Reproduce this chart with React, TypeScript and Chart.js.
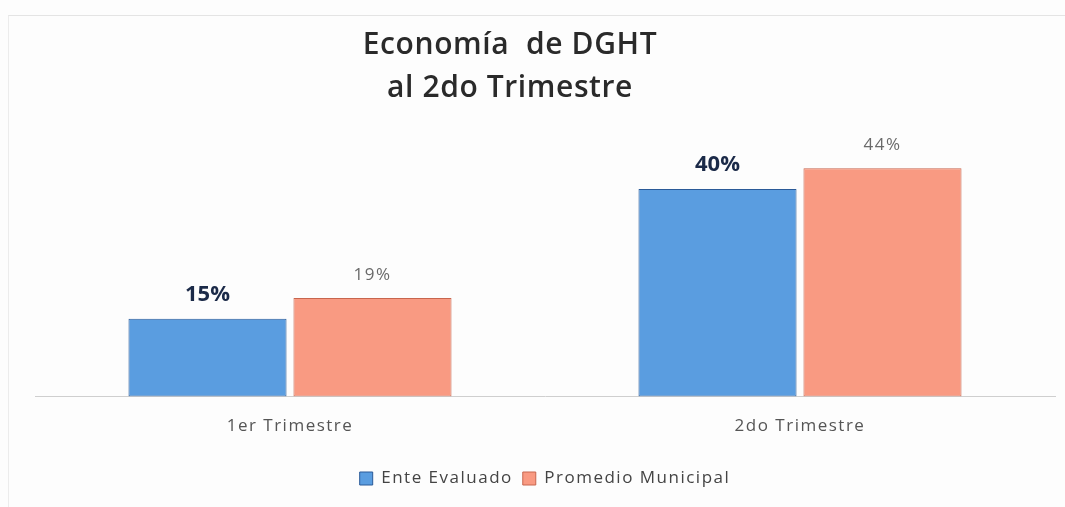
import React, { useEffect, useRef } from "react";
import { Chart, registerables } from "chart.js";

Chart.register(...registerables);

const titleLines = ["Economía  de DGHT", "al 2do Trimestre"];
const categories = ["1er Trimestre", "2do Trimestre"];
const seriesNames = ["Ente Evaluado", "Promedio Municipal"];
const enteEvaluado = [15, 40];
const promedioMunicipal = [19, 44];

const FONT = "'Open Sans', 'DejaVu Sans', sans-serif";
const TITLE_SIZE = 30;
const TITLE_LH = 43;

const spacing = {
  id: "spacing",
  beforeUpdate(chart: any) {
    (chart.ctx as any).letterSpacing = "1.5px";
  },
  beforeDraw(chart: any) {
    (chart.ctx as any).letterSpacing = "1.5px";
  },
};

const customTitle = {
  id: "customTitle",
  afterDraw(chart: any) {
    const ctx = chart.ctx;
    const cx = (chart.chartArea.left + chart.chartArea.right) / 2 - 35;
    ctx.save();
    (ctx as any).letterSpacing = "0.6px";
    ctx.font = `600 ${TITLE_SIZE}px ${FONT}`;
    ctx.fillStyle = "#2a2a2a";
    ctx.textAlign = "center";
    ctx.textBaseline = "middle";
    titleLines.forEach((t, i) => ctx.fillText(t, cx, 45 + i * TITLE_LH));
    ctx.restore();
  },
};

const valueLabels = {
  id: "valueLabels",
  afterDatasetsDraw(chart: any) {
    const ctx = chart.ctx;
    chart.data.datasets.forEach((ds: any, di: number) => {
      const meta = chart.getDatasetMeta(di);
      meta.data.forEach((bar: any, i: number) => {
        const v = ds.data[i];
        ctx.save();
        ctx.textAlign = "center";
        ctx.textBaseline = "middle";
        if (di === 0) {
          (ctx as any).letterSpacing = "0px";
          ctx.font = `bold 22px ${FONT}`;
          ctx.fillStyle = "#1b2a48";
          ctx.fillText(`${v}%`, bar.x, bar.y - 24);
        } else {
          ctx.font = `17px ${FONT}`;
          ctx.fillStyle = "#6a6a6a";
          (ctx as any).letterSpacing = "1.5px";
          ctx.fillText(`${v}%`, bar.x, bar.y - 23);
        }
        ctx.restore();
      });
    });
  },
};

export default function App() {
  const ref = useRef<HTMLCanvasElement>(null);
  useEffect(() => {
    const chart = new Chart(ref.current!, {
      type: "bar",
      data: {
        labels: categories,
        datasets: [
          {
            label: seriesNames[0],
            data: enteEvaluado,
            backgroundColor: "#5a9de0",
            borderColor: "#2a5a98",
            borderWidth: 1,
            borderSkipped: false,
            categoryPercentage: 0.647,
            barPercentage: 0.958,
          },
          {
            label: seriesNames[1],
            data: promedioMunicipal,
            backgroundColor: "#f99a82",
            borderColor: "#c8664e",
            borderWidth: 1,
            borderSkipped: false,
            categoryPercentage: 0.647,
            barPercentage: 0.958,
          },
        ],
      },
      options: {
        animation: false,
        responsive: true,
        maintainAspectRatio: false,
        layout: { padding: { left: 35, right: 10, top: 0, bottom: 10 } },
        scales: {
          x: {
            grid: { display: false },
            border: { display: true, color: "#cfcfcf", width: 1 },
            ticks: {
              color: "#555555",
              font: { family: FONT, size: 17 },
              padding: 11,
            },
            afterFit: (scale: any) => {
              scale.height += 13;
            },
          },
          y: {
            display: false,
            min: 0,
            max: 50,
          },
        },
        plugins: {
          title: {
            display: true,
            text: titleLines,
            color: "rgba(0,0,0,0)",
            font: { family: FONT, size: TITLE_SIZE, weight: "normal", lineHeight: 42 / TITLE_SIZE },
            padding: { top: 24, bottom: 29 },
          },
          legend: {
            position: "bottom",
            labels: {
              color: "#444444",
              font: { family: FONT, size: 17 },
              boxWidth: 13,
              boxHeight: 13,
              padding: 10,
            },
          },
          tooltip: { enabled: false },
        },
      },
      plugins: [spacing, valueLabels, customTitle],
    });
    return () => chart.destroy();
  }, []);
  return (
    <div
      style={{
        position: "absolute",
        left: 0,
        top: 0,
        width: 1065,
        height: 507,
        background: "#fdfdfd",
      }}
    >
      <div
        style={{
          position: "absolute",
          left: 8,
          top: 15,
          right: 0,
          bottom: 0,
          borderTop: "1px solid #e4e4e4",
          borderLeft: "1px solid #ececec",
        }}
      />
      <div style={{ position: "absolute", left: 0, top: 0, width: 1065, height: 507 }}>
        <canvas ref={ref} />
      </div>
    </div>
  );
}
